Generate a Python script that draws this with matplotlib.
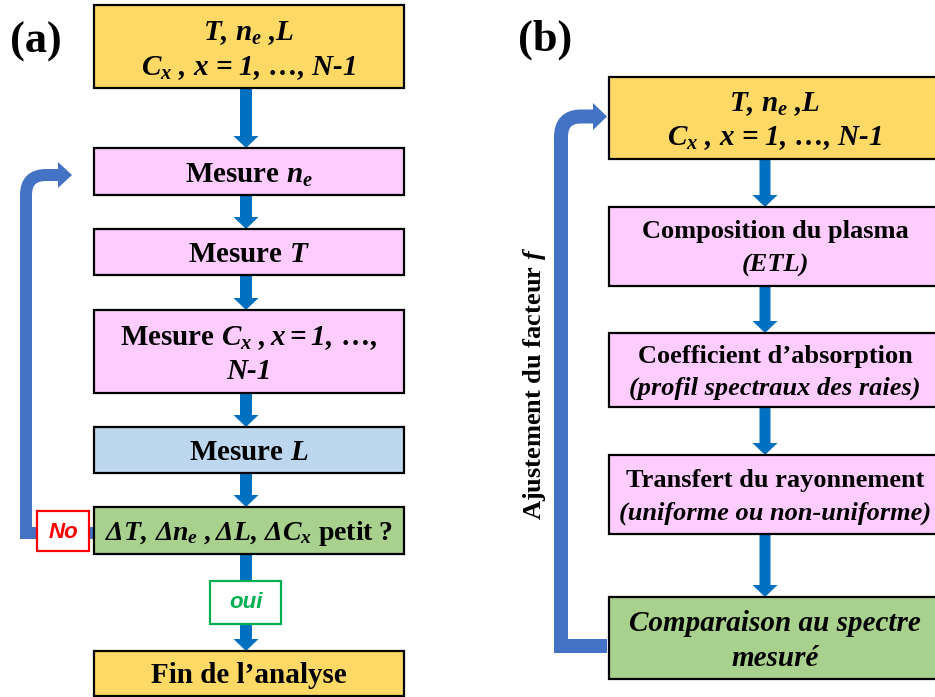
import matplotlib.pyplot as plt
from matplotlib.patches import Rectangle, FancyArrow, PathPatch, Polygon
from matplotlib.path import Path

plt.rcParams["mathtext.fontset"] = "custom"
plt.rcParams["mathtext.rm"] = "Liberation Serif:italic:bold"
plt.rcParams["mathtext.it"] = "Liberation Serif:italic:bold"
plt.rcParams["mathtext.bf"] = "Liberation Serif:bold"

# ---- text content -------------------------------------------------------
a_labels = [
    ["T, $n_e$ ,L", "$C_x$ , x = 1, …, N-1"],
    ["Mesure $n_e$"],
    ["Mesure $T$"],
    [r"Mesure $C_x\ ,x = 1,\,…,$", "N-1"],
    ["Mesure $L$"],
    [r"$ΔT,\,Δn_e\ ,ΔL,\,ΔC_x$ petit ?"],
    ["Fin de l’analyse"],
]
a_italic = [[True, True], [False], [False], [False, True], [False], [False], [False]]
a_colors = ["#FFD966", "#FFCCFF", "#FFCCFF", "#FFCCFF", "#BDD7EE", "#A9D18E", "#FFD966"]

b_labels = [
    ["T, $n_e$ ,L", "$C_x$ , x = 1, …, N-1"],
    ["Composition du plasma", "(ETL)"],
    ["Coefficient d’absorption", "(profil spectraux des raies)"],
    ["Transfert du rayonnement", "(uniforme ou non-uniforme)"],
    ["Comparaison au spectre", "mesuré"],
]
b_italic = [[True, True], [False, True], [False, True], [False, True], [True, True]]
b_colors = ["#FFD966", "#FFCCFF", "#FFCCFF", "#FFCCFF", "#A9D18E"]

loop_a_label = "No"
exit_a_label = "oui"
loop_b_label = "Ajustement du facteur $f$"

# ---- layout (pixel coordinates, y downwards) ----------------------------
a_x0, a_x1 = 94, 404
a_boxes = [(5, 88), (148, 195), (229, 275), (310, 393), (427, 473), (507, 554), (651, 696)]
a_base = [[40, 75], [183], [262], [345, 379], [460], [540], [683]]
a_sizes = [21, 21, 21, 21, 21, 20, 21]
a_arrow_x = 246

b_x0, b_x1 = 609, 942
b_boxes = [(77, 159), (207, 286), (333, 407), (455, 534), (597, 679)]
b_base = [[111, 145], [238, 272], [363, 395], [487, 520], [631, 666]]
b_sizes = [21, 19, 19, 19, 21]
b_text_x = 775
b_arrow_x = 765

ARROW = "#0070C0"
LOOP = "#4472C4"

fig = plt.figure(figsize=(9.35, 6.97), dpi=100)
ax = fig.add_axes([0, 0, 1, 1])
ax.set_xlim(0, 935)
ax.set_ylim(697, 0)
ax.axis("off")


def box(x0, x1, top, bottom, color, z=3):
    ax.add_patch(Rectangle((x0, top), x1 - x0, bottom - top, facecolor=color,
                           edgecolor="black", lw=1.6, zorder=z))


def down_arrow(x, y0, y1, shaft, head):
    ax.add_patch(FancyArrow(x, y0, 0, y1 - y0, width=shaft, head_width=head,
                            head_length=12, length_includes_head=True,
                            color=ARROW, lw=0, zorder=2))


def serif(x, y, s, italic, size, **kw):
    ax.text(x, y, s, ha="center", va="baseline", fontsize=size,
            family="Liberation Serif", weight="bold",
            style="italic" if italic else "normal", zorder=5, **kw)


# ---- panel (a) -----------------------------------------------------------
a_cx = (a_x0 + a_x1) / 2
for (top, bottom), lines, ital, base, col, fs in zip(a_boxes, a_labels, a_italic,
                                                      a_base, a_colors, a_sizes):
    box(a_x0, a_x1, top, bottom, col)
    for s, it, y in zip(lines, ital, base):
        serif(a_cx, y, s, it, fs)
for (t0, b0), (t1, b1) in zip(a_boxes[:-1], a_boxes[1:]):
    down_arrow(a_arrow_x, b0, t1, 12, 25)

# feedback loop
path = Path([(94, 533), (26, 533), (26, 195), (26, 175), (46, 175), (60, 175)],
            [Path.MOVETO, Path.LINETO, Path.LINETO, Path.CURVE3, Path.CURVE3, Path.LINETO])
ax.add_patch(PathPatch(path, fill=False, edgecolor=LOOP, lw=12 * 0.72,
                       joinstyle="miter", capstyle="butt", zorder=2))
ax.add_patch(Polygon([(58, 162), (72, 175), (58, 188)], color=LOOP, lw=0, zorder=2))

ax.add_patch(Rectangle((37, 511), 52, 40, facecolor="white", edgecolor="#FF0000", lw=1.6, zorder=4))
ax.text(63, 532, loop_a_label, ha="center", va="center", fontsize=16, color="#FF0000",
        family="Liberation Sans", weight="bold", style="italic", zorder=5)
ax.add_patch(Rectangle((210, 581), 71, 43, facecolor="white", edgecolor="#00B050", lw=1.6, zorder=4))
ax.text(245.5, 603, exit_a_label, ha="center", va="center", fontsize=16, color="#00B050",
        family="Liberation Sans", weight="bold", style="italic", zorder=5)

ax.text(36, 53, "(a)", ha="center", va="baseline", fontsize=32,
        family="Liberation Serif", weight="bold")

# ---- panel (b) -----------------------------------------------------------
for (top, bottom), lines, ital, base, col, fs in zip(b_boxes, b_labels, b_italic,
                                                      b_base, b_colors, b_sizes):
    box(b_x0, b_x1, top, bottom, col)
    for s, it, y in zip(lines, ital, base):
        serif(b_text_x, y, s, it, fs)
for (t0, b0), (t1, b1) in zip(b_boxes[:-1], b_boxes[1:]):
    down_arrow(b_arrow_x, b0, t1, 11, 25)

path = Path([(607, 646), (561, 646), (561, 137), (561, 116.5), (581, 116.5), (594, 116.5)],
            [Path.MOVETO, Path.LINETO, Path.LINETO, Path.CURVE3, Path.CURVE3, Path.LINETO])
ax.add_patch(PathPatch(path, fill=False, edgecolor=LOOP, lw=14 * 0.72,
                       joinstyle="miter", capstyle="butt", zorder=2))
ax.add_patch(Polygon([(593, 103), (607, 116.5), (593, 130)], color=LOOP, lw=0, zorder=2))

ax.text(535, 383, loop_b_label, ha="center", va="center", rotation=90, fontsize=19,
        family="Liberation Serif", weight="bold")

ax.text(545, 51, "(b)", ha="center", va="baseline", fontsize=32,
        family="Liberation Serif", weight="bold")

fig.savefig("out.png", dpi=100)
